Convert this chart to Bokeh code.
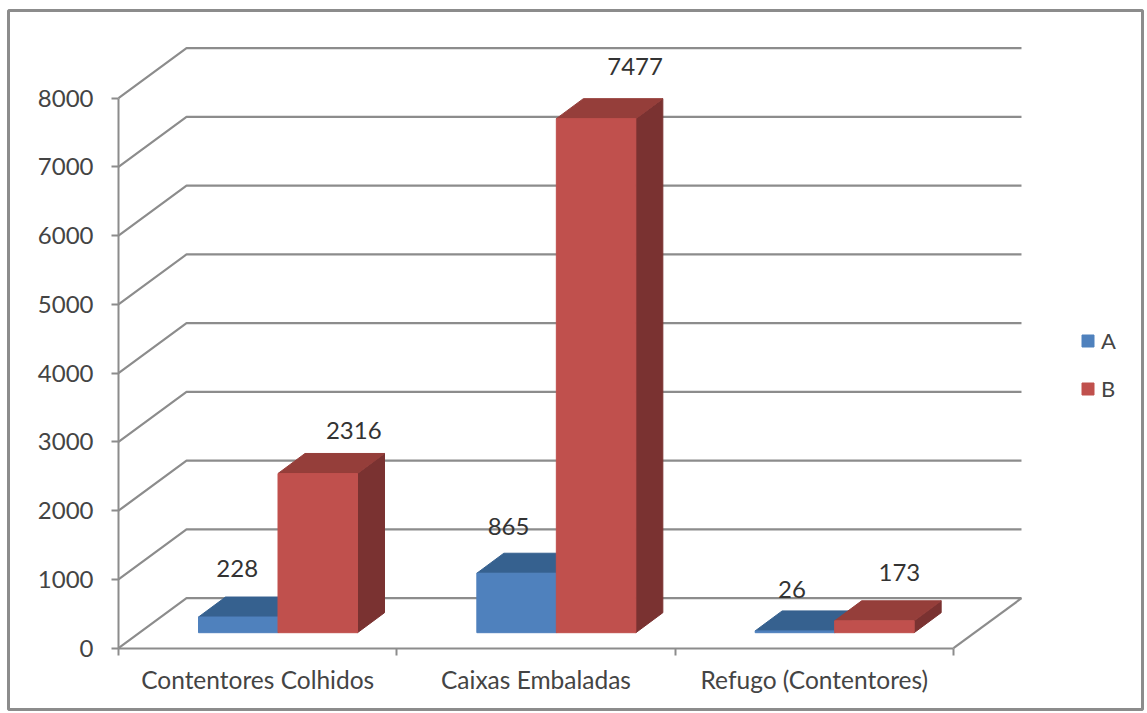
from bokeh.plotting import figure, ColumnDataSource
from bokeh.models import LinearAxis, FixedTicker, Legend, LegendItem, Range1d
from bokeh.core.properties import value
from bokeh.embed import file_html
from bokeh.resources import INLINE

categories = ["Contentores Colhidos", "Caixas Embaladas", "Refugo (Contentores)"]
series_a = [228, 865, 26]
series_b = [2316, 7477, 173]
y_ticks = [0, 1000, 2000, 3000, 4000, 5000, 6000, 7000, 8000]
label_dx_a = [-1, -8, -3]
label_dy_a = [49, 47, 41]
label_dx_b = [36, 39, 25]
label_dy_b = [43, 52, 48]

WIDTH, HEIGHT = 1147, 713
FONT = "Lato"
LEFT, RIGHT, TOP, BOTTOM = 8, 5, 10, 4
X0_PX, Y0_PX = 118.0, 647.7        # pixel position of the origin inside the figure
PX_X, PX_Y = 278.33, 550 / 8000    # px per category, px per value unit


def dx(px):
    return px / PX_X


def dy(px):
    return px / PX_Y


p = figure(width=WIDTH, height=HEIGHT, output_backend="svg", toolbar_location=None,
           x_axis_type=None, y_axis_type=None,
           min_border_left=LEFT, min_border_right=RIGHT, min_border_top=TOP, min_border_bottom=BOTTOM,
           x_range=Range1d(-dx(X0_PX - LEFT), dx(WIDTH - RIGHT - X0_PX)),
           y_range=Range1d(-dy(HEIGHT - BOTTOM - Y0_PX), dy(Y0_PX - TOP)),
           background_fill_color="white", border_fill_color="white")
p.outline_line_color = "#8c8c8c"
p.outline_line_width = 3

WALL_DX, WALL_DY = dx(68), dy(50)
GRID = "#8c8c8c"

# Walls and floor
xs, ys = [], []
for t in y_ticks:
    xs.append([0, WALL_DX, 3 + WALL_DX])
    ys.append([t, t + WALL_DY, t + WALL_DY])
xs.append([3, 3 + WALL_DX])
ys.append([0, WALL_DY])
p.multi_line(xs, ys, line_color=GRID, line_width=2.2)

BAR_W = dx(79.5)
BAR_START = dx(80)
FLOOR_DY = dy(15.5)
DEPTH_X, DEPTH_Y = dx(27), dy(20)

colors = {"A": ("#4f81bd", "#36618f", "#2f5480"), "B": ("#c0504d", "#953e3a", "#7a3231")}
renderers = {}

for cat in range(len(categories)):
    for slot, (name, vals) in enumerate((("A", series_a), ("B", series_b))):
        front, top, side = colors[name]
        l = cat + BAR_START + slot * BAR_W
        r = l + BAR_W
        b = FLOOR_DY
        t = vals[cat] + FLOOR_DY
        p.patch([r, r + DEPTH_X, r + DEPTH_X, r], [b, b + DEPTH_Y, t + DEPTH_Y, t], fill_color=side, line_color=side)
        p.patch([l, l + DEPTH_X, r + DEPTH_X, r], [t, t + DEPTH_Y, t + DEPTH_Y, t], fill_color=top, line_color=top)
        q = p.quad(left=[l], right=[r], top=[t], bottom=[b], fill_color=front, line_color=front)
        renderers.setdefault(name, q)

# Value labels
lx, ly, lt, ox, oy = [], [], [], [], []
for cat in range(len(categories)):
    for slot, vals, ldx, ldy in ((0, series_a, label_dx_a, label_dy_a), (1, series_b, label_dx_b, label_dy_b)):
        lx.append(cat + BAR_START + (slot + 0.5) * BAR_W)
        ly.append(vals[cat] + FLOOR_DY)
        lt.append(str(vals[cat]))
        ox.append(ldx[cat])
        oy.append(-ldy[cat])
p.text(x="x", y="y", text="t", x_offset="ox", y_offset="oy",
       source=ColumnDataSource(dict(x=lx, y=ly, t=lt, ox=ox, oy=oy)),
       text_font=value(FONT), text_font_size="24px", text_color="#333333",
       text_align="center", text_baseline="middle")

# Axes
yaxis = LinearAxis(fixed_location=0, bounds=(0, 8000), ticker=FixedTicker(ticks=y_ticks))
yaxis.axis_line_color = GRID
yaxis.axis_line_width = 2
yaxis.major_tick_line_color = GRID
yaxis.major_tick_line_width = 2
yaxis.major_tick_in = 0
yaxis.major_tick_out = 7
yaxis.minor_tick_line_color = None
yaxis.major_label_standoff = 18
yaxis.major_label_text_font = FONT
yaxis.major_label_text_font_size = "24px"
yaxis.major_label_text_color = "#444444"
p.add_layout(yaxis, "left")

centers = [i + 0.5 for i in range(len(categories))]
xaxis = LinearAxis(fixed_location=0, bounds=(0, 3),
                   ticker=FixedTicker(ticks=centers, minor_ticks=[0, 1, 2, 3]),
                   major_label_overrides={c: n for c, n in zip(centers, categories)})
xaxis.axis_line_color = GRID
xaxis.axis_line_width = 2
xaxis.major_tick_line_color = None
xaxis.major_tick_in = 0
xaxis.major_tick_out = 0
xaxis.minor_tick_line_color = GRID
xaxis.minor_tick_line_width = 2
xaxis.minor_tick_in = 0
xaxis.minor_tick_out = 7
xaxis.major_label_standoff = 10
xaxis.major_label_text_font = FONT
xaxis.major_label_text_font_size = "24.5px"
xaxis.major_label_text_color = "#444444"
p.add_layout(xaxis, "below")

legend = Legend(items=[LegendItem(label=value("A"), renderers=[renderers["A"]]),
                       LegendItem(label=value("B"), renderers=[renderers["B"]])],
                location=(1072, 307), border_line_color=None, background_fill_alpha=0,
                padding=0, margin=0, spacing=21, glyph_width=15, glyph_height=15,
                label_standoff=6, label_height=22,
                label_text_font=FONT, label_text_font_size="22px", label_text_color="#444444")
p.add_layout(legend, "center")

open("out.html", "w").write(file_html(p, INLINE))
